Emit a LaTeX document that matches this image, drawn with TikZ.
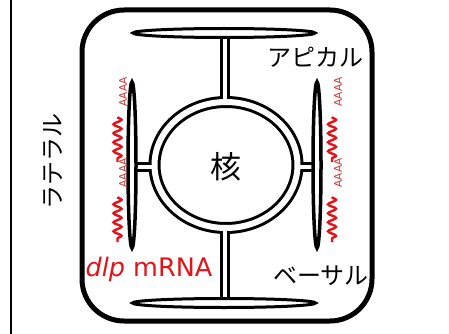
\documentclass[tikz,border=0pt]{standalone}
\usepackage{fontspec}
\newfontfamily\jp{Noto Sans CJK JP}
\newfontfamily\lat{DejaVu Sans}
\usetikzlibrary{decorations.pathmorphing}
\definecolor{mred}{RGB}{225,20,25}
\definecolor{polyred}{RGB}{200,50,50}
\begin{document}
\begin{tikzpicture}[x=1pt,y=-1pt,
  tubeout/.style={line width=12pt,draw=black},
  tubein/.style={line width=6pt,draw=white},
  stalkout/.style={line width=10pt,draw=black},
  stalkin/.style={line width=4pt,draw=white},
  disc/.style={draw=black,line width=3pt,fill=white},
  wave/.style={draw=mred,line width=2.4pt,decorate,
    decoration={snake,amplitude=4pt,segment length=9pt}},
  polya/.style={text=polyred,font=\lat\fontsize{10.5}{10.5}\selectfont,rotate=90,inner sep=0pt},
  jlabel/.style={font=\jp\fontsize{24}{24}\selectfont,inner sep=0pt}]
\fill[white] (0,0) rectangle (449,334);
\useasboundingbox (0,0) rectangle (449,334);

% frame line on the left
\draw[line width=2pt] (11,0) -- (11,334);

% cell outline
\draw[line width=5pt,rounded corners=42pt] (82,10) rectangle (372,321);

% anchor points
\coordinate (nuc) at (226,165);
\coordinate (topE) at (224,33);
\coordinate (botE) at (224,303);
\coordinate (leftE) at (132,165);
\coordinate (rightE) at (317,165);
\coordinate (ts) at (225,33);   \coordinate (tn) at (225,102);
\coordinate (bs) at (225,303);  \coordinate (bn) at (225,228);
\coordinate (ls) at (132,167);  \coordinate (ln) at (154.5,167);
\coordinate (rs) at (317,167);  \coordinate (rn) at (297.5,167);

% nuclear envelope and connecting tubes: black outline first, then white core
\draw[tubeout] (nuc) ellipse [x radius=71.5,y radius=63];
\foreach \a/\b in {ts/tn,bs/bn,ls/ln,rs/rn}
  \draw[stalkout] (\a) -- (\b);
\draw[tubein] (nuc) ellipse [x radius=71.5,y radius=63];
\foreach \a/\b in {ts/tn,bs/bn,ls/ln,rs/rn}
  \draw[stalkin] (\a) -- (\b);

% flattened membrane discs
\path[disc] (topE) ellipse [x radius=91,y radius=4.5];
\path[disc] (botE) ellipse [x radius=91.5,y radius=4.5];
\path[disc,line width=3.5pt] (leftE) ellipse [x radius=4,y radius=83];
\path[disc,line width=3.5pt] (rightE) ellipse [x radius=4,y radius=83];

% mRNA strands with poly(A) tails
\draw[wave] (117.5,117) -- (117.5,162);
\draw[wave] (117.5,197) -- (117.5,242);
\draw[wave] (332,117) -- (332,162);
\draw[wave] (332,197) -- (332,242);
\node[polya] (pa1) at (123,92) {AAAA};
\node[polya] (pa2) at (123,173) {AAAA};
\node[polya] (pa3) at (338,92) {AAAA};
\node[polya] (pa4) at (338,173) {AAAA};

% labels
\node[font=\jp\fontsize{31}{31}\selectfont,inner sep=0pt] (kaku) at (226,167) {核};
\node[jlabel] (apical) at (315,57) {アピカル};
\node[jlabel] (basal) at (321,276) {ベーサル};
\node[jlabel,rotate=90] (lateral) at (53,161) {ラテラル};
\node[text=mred,font=\lat\fontsize{25.5}{25.5}\selectfont,inner sep=0pt] (mrna) at (149,269) {\textit{dlp} mRNA};
\end{tikzpicture}
\end{document}
